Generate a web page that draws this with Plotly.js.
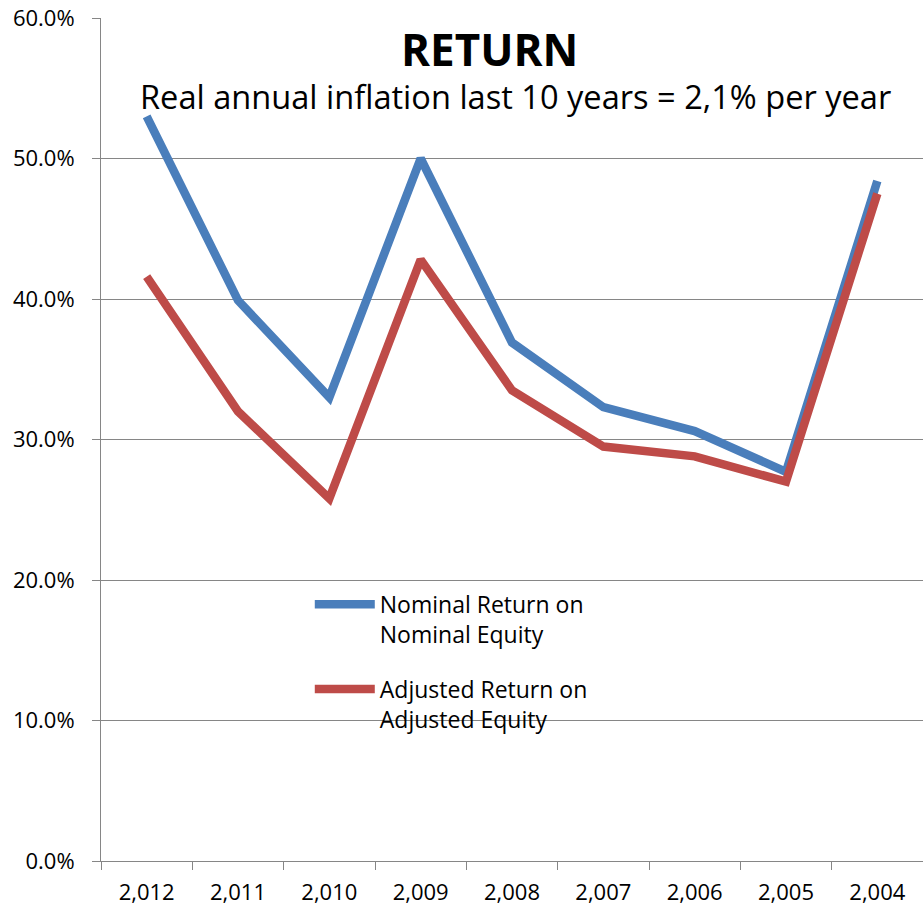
<!DOCTYPE html>
<html>
<head>
<meta charset="utf-8">
<script src="https://cdn.plot.ly/plotly-3.0.1.min.js"></script>
<style>html,body{margin:0;padding:0;background:#fff;}#chart{width:923px;height:911px;}</style>
</head>
<body>
<div id="chart"></div>
<script>
const years = ["2,012", "2,011", "2,010", "2,009", "2,008", "2,007", "2,006", "2,005", "2,004"];
const nominalReturn = [53.0, 39.9, 33.0, 50.0, 36.9, 32.3, 30.6, 27.7, 48.4];
const adjustedReturn = [41.6, 32.0, 25.8, 42.8, 33.5, 29.5, 28.8, 27.0, 47.5];
const yTicks = [0, 10, 20, 30, 40, 50, 60];

const font = "Open Sans, Liberation Sans, sans-serif";
const grid = "#868686";

const traces = [
  {x: years, y: nominalReturn, type: "scatter", mode: "lines", name: "Nominal Return on<br>Nominal Equity",
   line: {color: "#4A7EBB", width: 8.5}, legendgroup: "a"},
  {x: years, y: adjustedReturn, type: "scatter", mode: "lines", name: "Adjusted Return on<br>Adjusted Equity",
   line: {color: "#BE4B48", width: 8.5}, legendgroup: "b"}
];

const layout = {
  width: 923, height: 911,
  margin: {l: 101, r: 0, t: 18, b: 50},
  paper_bgcolor: "#fff", plot_bgcolor: "#fff",
  font: {family: font, size: 22, color: "#000"},
  showlegend: true,
  legend: {x: 0.254, y: 0.33, xanchor: "left", yanchor: "top", font: {size: 23, family: font},
           tracegroupgap: 22, itemwidth: 60, valign: "top", bgcolor: "rgba(0,0,0,0)"},
  xaxis: {type: "category", range: [-0.5, 8.5], showgrid: false, showline: true, linecolor: grid, linewidth: 1,
          ticks: "outside", tickson: "boundaries", ticklen: 8, tickcolor: grid, ticklabelstandoff: 12,
          tickfont: {size: 22}, zeroline: false, fixedrange: true},
  yaxis: {range: [0, 60], tickvals: yTicks, ticktext: yTicks.map(v => v.toFixed(1) + "%"),
          showgrid: true, gridcolor: grid, gridwidth: 1, showline: true, linecolor: grid,
          ticks: "outside", ticklen: 8, tickcolor: grid, ticklabelstandoff: 13, zeroline: false,
          tickfont: {size: 22}},
  annotations: [
    {text: "<b>RETURN</b>", xref: "paper", yref: "paper", x: 0.473, y: 0.963, xanchor: "center", yanchor: "middle",
     showarrow: false, font: {size: 44, family: font}},
    {text: "Real annual inflation last 10 years = 2,1% per year", xref: "paper", yref: "paper", x: 0.504, y: 0.907,
     xanchor: "center", yanchor: "middle", showarrow: false, font: {size: 32.6, family: font}}
  ]
};

Plotly.newPlot("chart", traces, layout, {staticPlot: true, displayModeBar: false});
</script>
</body>
</html>
